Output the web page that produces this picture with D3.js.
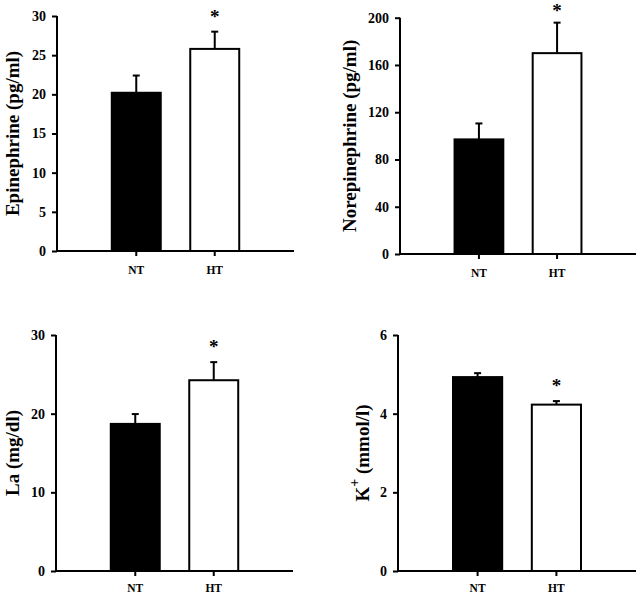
<!DOCTYPE html>
<html>
<head>
<meta charset="utf-8">
<script src="https://cdn.jsdelivr.net/npm/d3@7"></script>
<style>
  html, body { margin: 0; padding: 0; background: #fff; }
  svg { display: block; }
  text { font-family: "Liberation Serif", "Times New Roman", serif; font-weight: bold; fill: #000; }
</style>
</head>
<body>
<svg id="chart" width="638" height="594"></svg>
<script>
// ---- data ----
const groups = ["NT", "HT"];
const epinephrine = [20.2, 25.8];
const epinephrineErr = [2.2, 2.2];
const norepinephrine = [97, 170];
const norepinephrineErr = [13.5, 25.8];
const lactate = [18.7, 24.25];
const lactateErr = [1.25, 2.3];
const potassium = [4.93, 4.23];
const potassiumErr = [0.1, 0.09];
const epinephrineTicks = [0, 5, 10, 15, 20, 25, 30];
const norepinephrineTicks = [0, 40, 80, 120, 160, 200];
const lactateTicks = [0, 10, 20, 30];
const potassiumTicks = [0, 2, 4, 6];
const significant = [false, true];

// ---- layout ----
const panels = [
  { values: epinephrine, errors: epinephrineErr, ticks: epinephrineTicks, max: 30,
    label: "Epinephrine (pg/ml)", x0: 57, x1: 294, yTop: 16, yBot: 251, labelX: 12, xLabDy: 23 },
  { values: norepinephrine, errors: norepinephrineErr, ticks: norepinephrineTicks, max: 200,
    label: "Norepinephrine (pg/ml)", x0: 400, x1: 636, yTop: 17.7, yBot: 254, labelX: 349, xLabDy: 23 },
  { values: lactate, errors: lactateErr, ticks: lactateTicks, max: 30,
    label: "La (mg/dl)", x0: 56, x1: 293, yTop: 335, yBot: 571, labelX: 12, xLabDy: 21 },
  { values: potassium, errors: potassiumErr, ticks: potassiumTicks, max: 6,
    label: "K+", x0: 398, x1: 636, yTop: 335, yBot: 571, labelX: 362, xLabDy: 21 }
];

const svg = d3.select("#chart");
svg.append("rect").attr("width", 638).attr("height", 594).attr("fill", "#fff");

panels.forEach((p, pi) => {
  const g = svg.append("g");
  const x = d3.scaleBand().domain(groups).range([p.x0, p.x1])
    .paddingInner(0.376).paddingOuter(0.698);
  const y = d3.scaleLinear().domain([0, p.max]).range([p.yBot, p.yTop]);

  // bars
  groups.forEach((grp, i) => {
    const v = p.values[i], e = p.errors[i];
    const cx = x(grp) + x.bandwidth() / 2;
    // error bar (upper only)
    g.append("line").attr("x1", cx).attr("x2", cx)
      .attr("y1", y(v)).attr("y2", y(v + e))
      .attr("stroke", "#000").attr("stroke-width", 2);
    g.append("line").attr("x1", cx - 3.5).attr("x2", cx + 3.5)
      .attr("y1", y(v + e)).attr("y2", y(v + e))
      .attr("stroke", "#000").attr("stroke-width", 2);
    g.append("rect")
      .attr("x", x(grp)).attr("y", y(v))
      .attr("width", x.bandwidth()).attr("height", y(0) - y(v))
      .attr("fill", i === 0 ? "#000" : "#fff")
      .attr("stroke", "#000").attr("stroke-width", 2);
    if (significant[i]) {
      g.append("text").attr("x", cx).attr("y", Math.max(y(v + e) - 9, 17))
        .attr("text-anchor", "middle").attr("font-size", 19).text("*");
    }
  });

  // y axis
  const ya = g.append("g").attr("transform", `translate(${p.x0},0)`)
    .call(d3.axisLeft(y).tickValues(p.ticks).tickSize(5).tickPadding(6).tickFormat(d3.format("d")));
  ya.selectAll("path, line").attr("stroke", "#000").attr("stroke-width", 2);
  ya.select(".domain").attr("d", `M0,${p.yBot}V${p.yTop}`);
  ya.selectAll("text").attr("font-size", 14).attr("font-family", '"Liberation Serif", serif')
    .attr("font-weight", "bold").attr("fill", "#000");

  // x axis
  const xa = g.append("g").attr("transform", `translate(0,${p.yBot})`)
    .call(d3.axisBottom(x).tickSize(5).tickPadding(0));
  xa.selectAll("path, line").attr("stroke", "#000").attr("stroke-width", 2);
  xa.select(".domain").attr("d", `M${p.x0 - 1},0H${p.x1}`);
  xa.selectAll("text").attr("font-size", 11.5).attr("font-family", '"Liberation Serif", serif')
    .attr("font-weight", "bold").attr("fill", "#000")
    .attr("dy", null).attr("y", p.xLabDy);

  // y label
  const cy = (p.yTop + p.yBot) / 2;
  const lab = g.append("text")
    .attr("transform", `translate(${p.labelX},${cy}) rotate(-90)`)
    .attr("text-anchor", "middle").attr("dominant-baseline", "central")
    .attr("font-size", 19);
  if (p.label === "K+") {
    lab.append("tspan").text("K");
    lab.append("tspan").attr("baseline-shift", "super").attr("font-size", 14).text("+");
    lab.append("tspan").text(" (mmol/l)");
  } else {
    lab.text(p.label);
  }
});
</script>
</body>
</html>
